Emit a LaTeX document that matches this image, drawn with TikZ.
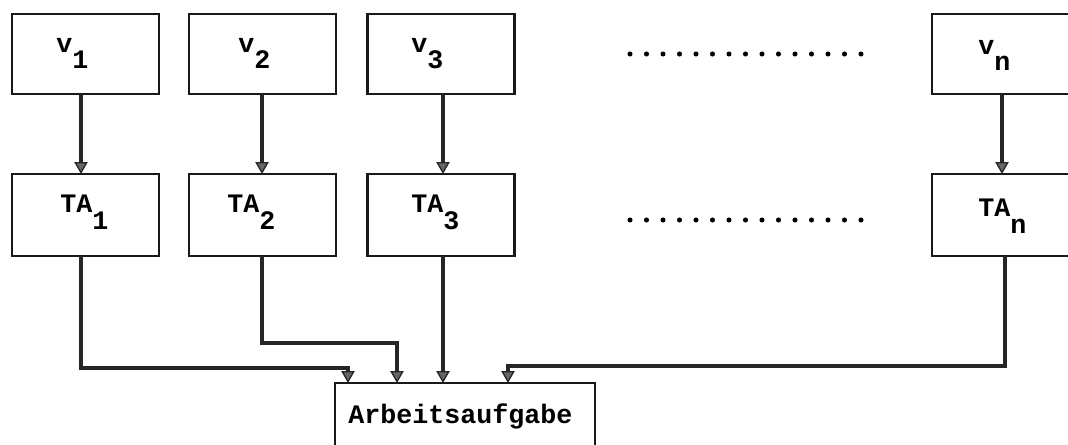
\documentclass[tikz,border=0pt]{standalone}
\usepackage{fontspec}
\setmonofont{Liberation Mono}
\usetikzlibrary{arrows.meta}
\newcommand\lowsub[2]{\raisebox{-#1}{#2}}
\begin{document}
\begin{tikzpicture}[x=0.75pt,y=-0.75pt,
  box/.style={draw=black!90, line width=1.7pt, inner sep=0pt, outer sep=0pt, minimum width=110.25pt},
  topbox/.style={box, minimum height=60pt},
  tabox/.style={box, minimum height=61.5pt},
  lbl/.style={anchor=base west, inner sep=0pt, font=\ttfamily\bfseries\fontsize{20}{24}\selectfont},
  conn/.style={draw=black!85, line width=2.3pt, -{Triangle[width=10pt,length=9pt,fill=black!60,line width=1pt]}},
  tdot/.style={circle, fill=black, draw=none, inner sep=0pt, minimum size=3.8pt}]
\useasboundingbox (0,0) rectangle (1068,444);
\clip (0,0) rectangle (1068,444);
% top row
\node[topbox] (v1) at (85.5,54) {};
\node[topbox] (v2) at (262.5,54) {};
\node[topbox] (v3) at (441,54) {};
\node[topbox] (vn) at (1005.5,54) {};
% TA row
\node[tabox] (ta1) at (85.5,215) {};
\node[tabox] (ta2) at (262.5,215) {};
\node[tabox] (ta3) at (441,215) {};
\node[tabox] (tan) at (1005.5,215) {};
% bottom box
\node[box, minimum width=195pt, minimum height=60pt] (arb) at (465,423) {};
% labels
\node[lbl] (lv1) at (56,52) {v\lowsub{12pt}{1}};
\node[lbl] (lv2) at (238,52) {v\lowsub{12pt}{2}};
\node[lbl] (lv3) at (411,52) {v\lowsub{12pt}{3}};
\node[lbl] (lvn) at (978,54) {v\lowsub{12pt}{n}};
\node[lbl] (lt1) at (60,212) {TA\lowsub{13pt}{1}};
\node[lbl] (lt2) at (227,212) {TA\lowsub{13pt}{2}};
\node[lbl] (lt3) at (411,212) {TA\lowsub{13pt}{3}};
\node[lbl] (ltn) at (978,216) {TA\lowsub{13pt}{n}};
\node[lbl] (larb) at (348,423) {Arbeitsaufgabe};
% dots
\foreach \i in {0,...,14} {
  \node[tdot] (da\i) at ({630+16.5*\i},54) {};
  \node[tdot] (db\i) at ({630+16.5*\i},220) {};
}
% x positions of connectors
\coordinate (x1) at (81,0);
\coordinate (x2) at (262,0);
\coordinate (x3) at (443,0);
\coordinate (xn) at (1002,0);
\coordinate (xtn) at (1005,0);
\draw[conn] (x1 |- v1.south) -- (x1 |- ta1.north);
\draw[conn] (x2 |- v2.south) -- (x2 |- ta2.north);
\draw[conn] (x3 |- v3.south) -- (x3 |- ta3.north);
\draw[conn] (xn |- vn.south) -- (xn |- tan.north);
% to Arbeitsaufgabe
\coordinate (c1) at (348,368);
\coordinate (c2) at (397,343);
\coordinate (cn) at (508,366);
\draw[conn] (x1 |- ta1.south) |- (c1) -- (c1 |- arb.north);
\draw[conn] (x2 |- ta2.south) |- (c2) -- (c2 |- arb.north);
\draw[conn] (x3 |- ta3.south) -- (x3 |- arb.north);
\draw[conn] (xtn |- tan.south) |- (cn) -- (cn |- arb.north);
\end{tikzpicture}
\end{document}
